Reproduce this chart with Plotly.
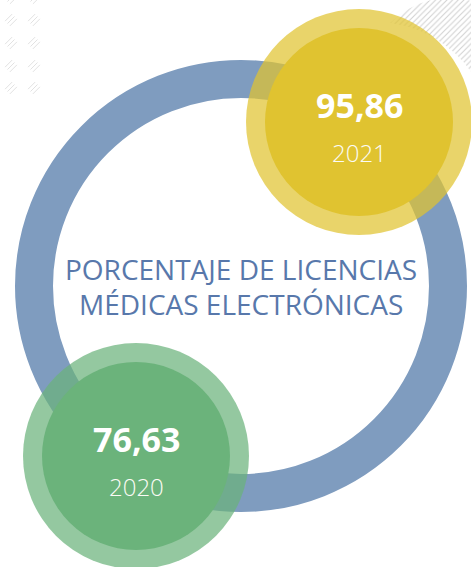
import numpy as np
import plotly.graph_objects as go

# ---------------- data ----------------
years = ["2020", "2021"]
values = [76.63, 95.86]
title_lines = ["PORCENTAJE DE LICENCIAS", "MÉDICAS ELECTRÓNICAS"]

# ---------------- styling / layout constants ----------------
W, H = 471, 567
ring_color = "#7f9cbf"
title_color = "#5878ab"
bubble_colors = ["#6bb37b", "#e0c330"]
bubble_centers = [(136, 456), (359, 122)]
R_OUT, R_IN = 113, 94
ring_center = (241, 286)
ring_r, ring_w = 207, 38
hatch_color = "#cfcfcf"

fig = go.Figure()

# ---- decorative hatched crescent (top right) ----
def circle_pts(cx, cy, r, n=720):
    t = np.linspace(0, 2 * np.pi, n, endpoint=False)
    return cx + r * np.cos(t), cy + r * np.sin(t)

D1 = (450, 82, 84)
D2 = (375, 140, 118)
x1, y1 = circle_pts(*D1)
m1 = (x1 - D2[0]) ** 2 + (y1 - D2[1]) ** 2 > D2[2] ** 2
s = int(np.argmax(m1 & ~np.roll(m1, 1)))
x1, y1, m1 = np.roll(x1, -s), np.roll(y1, -s), np.roll(m1, -s)
x1, y1 = x1[m1], y1[m1]
x2, y2 = circle_pts(*D2)
m2 = (x2 - D1[0]) ** 2 + (y2 - D1[1]) ** 2 < D1[2] ** 2
s2 = int(np.argmax(m2 & ~np.roll(m2, 1)))
x2, y2, m2 = np.roll(x2, -s2), np.roll(y2, -s2), np.roll(m2, -s2)
x2, y2 = x2[m2], y2[m2]
if (x2[0] - x1[-1]) ** 2 + (y2[0] - y1[-1]) ** 2 > (x2[-1] - x1[-1]) ** 2 + (y2[-1] - y1[-1]) ** 2:
    x2, y2 = x2[::-1], y2[::-1]
hx = np.concatenate([x1, x2])
hy = np.concatenate([y1, y2])
fig.add_trace(go.Scatter(
    x=hx, y=hy, mode="lines", fill="toself", line=dict(width=0),
    fillcolor="rgba(0,0,0,0)",
    fillpattern=dict(shape="/", size=4, solidity=0.25, fgcolor=hatch_color,
                     bgcolor="rgba(0,0,0,0)", fillmode="replace"),
    hoverinfo="skip", showlegend=False))

shapes = []
# ---- decorative hatch clusters (top left) ----
for cx in (11, 34):
    for cy in (-2, 20, 43, 66, 88):
        for d in (-2.4, 0, 2.4):
            shapes.append(dict(type="line", xref="x", yref="y",
                               x0=cx - 3.5 + d, y0=cy + 3.5 + d,
                               x1=cx + 3.5 + d, y1=cy - 3.5 + d,
                               line=dict(color="#e2e2e2", width=1), layer="below"))

# ---- big ring ----
shapes.append(dict(type="circle", xref="x", yref="y",
                   x0=ring_center[0] - ring_r, x1=ring_center[0] + ring_r,
                   y0=ring_center[1] - ring_r, y1=ring_center[1] + ring_r,
                   line=dict(color=ring_color, width=ring_w), fillcolor="rgba(0,0,0,0)",
                   layer="above"))

# ---- bubbles ----
annotations = []
for yr, val, col, (cx, cy) in zip(years, values, bubble_colors, bubble_centers):
    shapes.append(dict(type="circle", xref="x", yref="y",
                       x0=cx - R_OUT, x1=cx + R_OUT, y0=cy - R_OUT, y1=cy + R_OUT,
                       fillcolor=col, opacity=0.72, line=dict(width=0), layer="above"))
    shapes.append(dict(type="circle", xref="x", yref="y",
                       x0=cx - R_IN, x1=cx + R_IN, y0=cy - R_IN, y1=cy + R_IN,
                       fillcolor=col, line=dict(width=0), layer="above"))
    annotations.append(dict(x=cx, y=cy - 17, xref="x", yref="y", showarrow=False,
                            text=f"<b>{val:.2f}</b>".replace(".", ","),
                            font=dict(family="Open Sans", size=34, color="white")))
    annotations.append(dict(x=cx, y=cy + 30, xref="x", yref="y", showarrow=False,
                            text=yr,
                            font=dict(family="Open Sans", size=24, color="#fbfbf5", weight=300)))

# ---- title ----
for i, line in enumerate(title_lines):
    annotations.append(dict(x=ring_center[0], y=269 + 35 * i, xref="x", yref="y",
                            showarrow=False, text=line,
                            font=dict(family="Open Sans", size=28, color=title_color)))

fig.update_layout(
    width=W, height=H,
    margin=dict(l=0, r=0, t=0, b=0),
    paper_bgcolor="white", plot_bgcolor="white",
    xaxis=dict(range=[0, W], visible=False, fixedrange=True),
    yaxis=dict(range=[H, 0], visible=False, fixedrange=True),
    shapes=shapes, annotations=annotations, showlegend=False,
)

fig.write_html("out.html", config={"displayModeBar": False, "staticPlot": True},
               post_script="document.body.style.margin='0';document.body.style.overflow='hidden';")
